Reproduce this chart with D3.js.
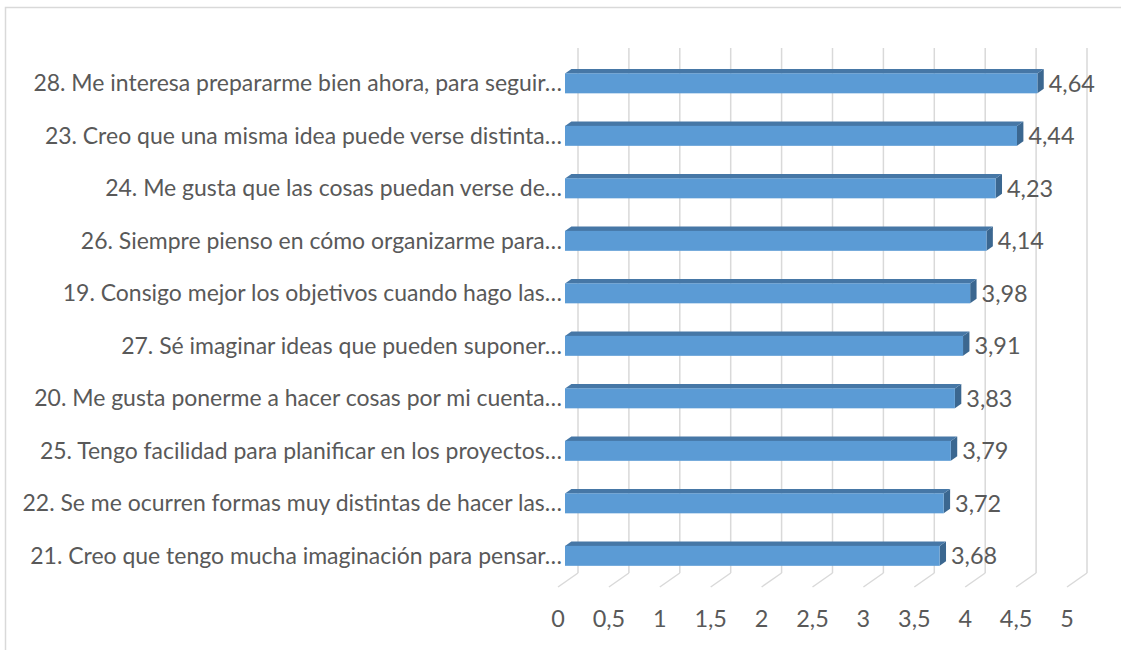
<!DOCTYPE html>
<html>
<head>
<meta charset="utf-8">
<script src="https://cdn.jsdelivr.net/npm/d3@7"></script>
<style>
  body { margin: 0; background: #fff; }
  svg { display: block; }
</style>
</head>
<body>
<div id="chart"></div>
<script>
let font = "Lato, 'Open Sans', sans-serif";
let textColor = "#595959";

// datos (de arriba hacia abajo)
let categorias = [
    "28. Me interesa prepararme bien ahora, para seguir…",
    "23. Creo que una misma idea puede verse distinta…",
    "24. Me gusta que las cosas puedan verse de…",
    "26. Siempre pienso en cómo organizarme para…",
    "19. Consigo mejor los objetivos cuando hago las…",
    "27. Sé imaginar ideas que pueden suponer…",
    "20. Me gusta ponerme a hacer cosas por mi cuenta…",
    "25. Tengo facilidad para planificar en los proyectos…",
    "22. Se me ocurren formas muy distintas de hacer las…",
    "21. Creo que tengo mucha imaginación para pensar…"
];
let valores = [4.64, 4.44, 4.23, 4.14, 3.98, 3.91, 3.83, 3.79, 3.72, 3.68];
let ticks = [0, 0.5, 1, 1.5, 2, 2.5, 3, 3.5, 4, 4.5, 5];

function zeichne() {
    let width = 1121, height = 650;
    let svg = d3.select("#chart").append("svg")
        .attr("width", width)
        .attr("height", height);

    // Rahmen (nur links und oben sichtbar)
    svg.append("rect")
        .attr("x", 5.5).attr("y", 7.5)
        .attr("width", width + 10).attr("height", height + 10)
        .attr("fill", "none")
        .attr("stroke", "#d9d9d9")
        .attr("stroke-width", 1.5);

    // Skalen, Vorderebene
    let plotTop = 62, plotBottom = 587;
    let x = d3.scaleLinear().domain([0, 5]).range([558, 1067]);
    let y = d3.scaleBand().domain(categorias).range([plotTop, plotBottom])
        .paddingInner(0.62).paddingOuter(0.31);

    // Tiefenvektor (3D)
    let dx = 20, dy = -14;
    let t0 = 0.35, t1 = 0.67; // Balken vorne / hinten
    let pt = (v, yy, t) => [x(v) + dx * t, yy + dy * t];

    // Rückwand-Gitterlinien
    let grid = svg.append("g").attr("stroke", "#d9d9d9").attr("stroke-width", 1.5).attr("fill", "none");
    grid.selectAll(".back").data(ticks).enter().append("line")
        .attr("x1", d => x(d) + dx).attr("x2", d => x(d) + dx)
        .attr("y1", plotTop + dy).attr("y2", plotBottom + dy);
    // Boden
    grid.selectAll(".floor").data(ticks).enter().append("line")
        .attr("x1", d => x(d)).attr("y1", plotBottom)
        .attr("x2", d => x(d) + dx).attr("y2", plotBottom + dy);

    // Balken
    let bars = svg.selectAll(".bar").data(valores).enter().append("g").attr("class", "bar");
    let poly = pts => "M" + pts.map(p => p.join(",")).join("L") + "Z";

    bars.each(function (v, i) {
        let g = d3.select(this);
        let yt = y(categorias[i]), yb = yt + y.bandwidth();
        // Seite
        g.append("path")
            .attr("d", poly([pt(v, yt, t0), pt(v, yt, t1), pt(v, yb, t1), pt(v, yb, t0)]))
            .attr("fill", "#3b6790");
        // Oberseite
        g.append("path")
            .attr("d", poly([pt(0, yt, t0), pt(0, yt, t1), pt(v, yt, t1), pt(v, yt, t0)]))
            .attr("fill", "#4677a6");
        // Vorderseite
        let a = pt(0, yt, t0), b = pt(v, yb, t0);
        g.append("rect")
            .attr("x", a[0]).attr("y", a[1])
            .attr("width", b[0] - a[0]).attr("height", b[1] - a[1])
            .attr("fill", "#5b9bd5");
    });

    // Kategorien
    let kat = svg.selectAll(".kat").data(categorias).enter().append("text")
        .attr("class", "kat")
        .attr("x", 562)
        .attr("y", d => y(d) + y.bandwidth() / 2 + dy * t0)
        .attr("dy", "0.35em")
        .attr("text-anchor", "end")
        .attr("font-family", font)
        .attr("font-size", "18px")
        .attr("fill", textColor)
        .text(d => d);

    // Schriftgröße an Breite anpassen (breiteste Beschriftung ~540px)
    let maxW = d3.max(kat.nodes(), n => n.getComputedTextLength());
    let fs = 18 * 540 / maxW;
    kat.attr("font-size", fs + "px");
    let fsZahl = fs * 1.02;

    // Werte
    svg.selectAll(".wert").data(valores).enter().append("text")
        .attr("class", "wert")
        .attr("x", d => x(d) + dx * t1 + 5)
        .attr("y", (d, i) => y(categorias[i]) + y.bandwidth() / 2 + dy * t0)
        .attr("dy", "0.35em")
        .attr("font-family", font)
        .attr("font-size", fsZahl + "px")
        .attr("fill", textColor)
        .text(d => String(d).replace(".", ","));

    // x-Achse Beschriftung
    svg.selectAll(".tick").data(ticks).enter().append("text")
        .attr("class", "tick")
        .attr("x", d => x(d))
        .attr("y", 619)
        .attr("dy", "0.35em")
        .attr("text-anchor", "middle")
        .attr("font-family", font)
        .attr("font-size", fsZahl + "px")
        .attr("fill", textColor)
        .text(d => String(d).replace(".", ","));
}

zeichne();
</script>
</body>
</html>
